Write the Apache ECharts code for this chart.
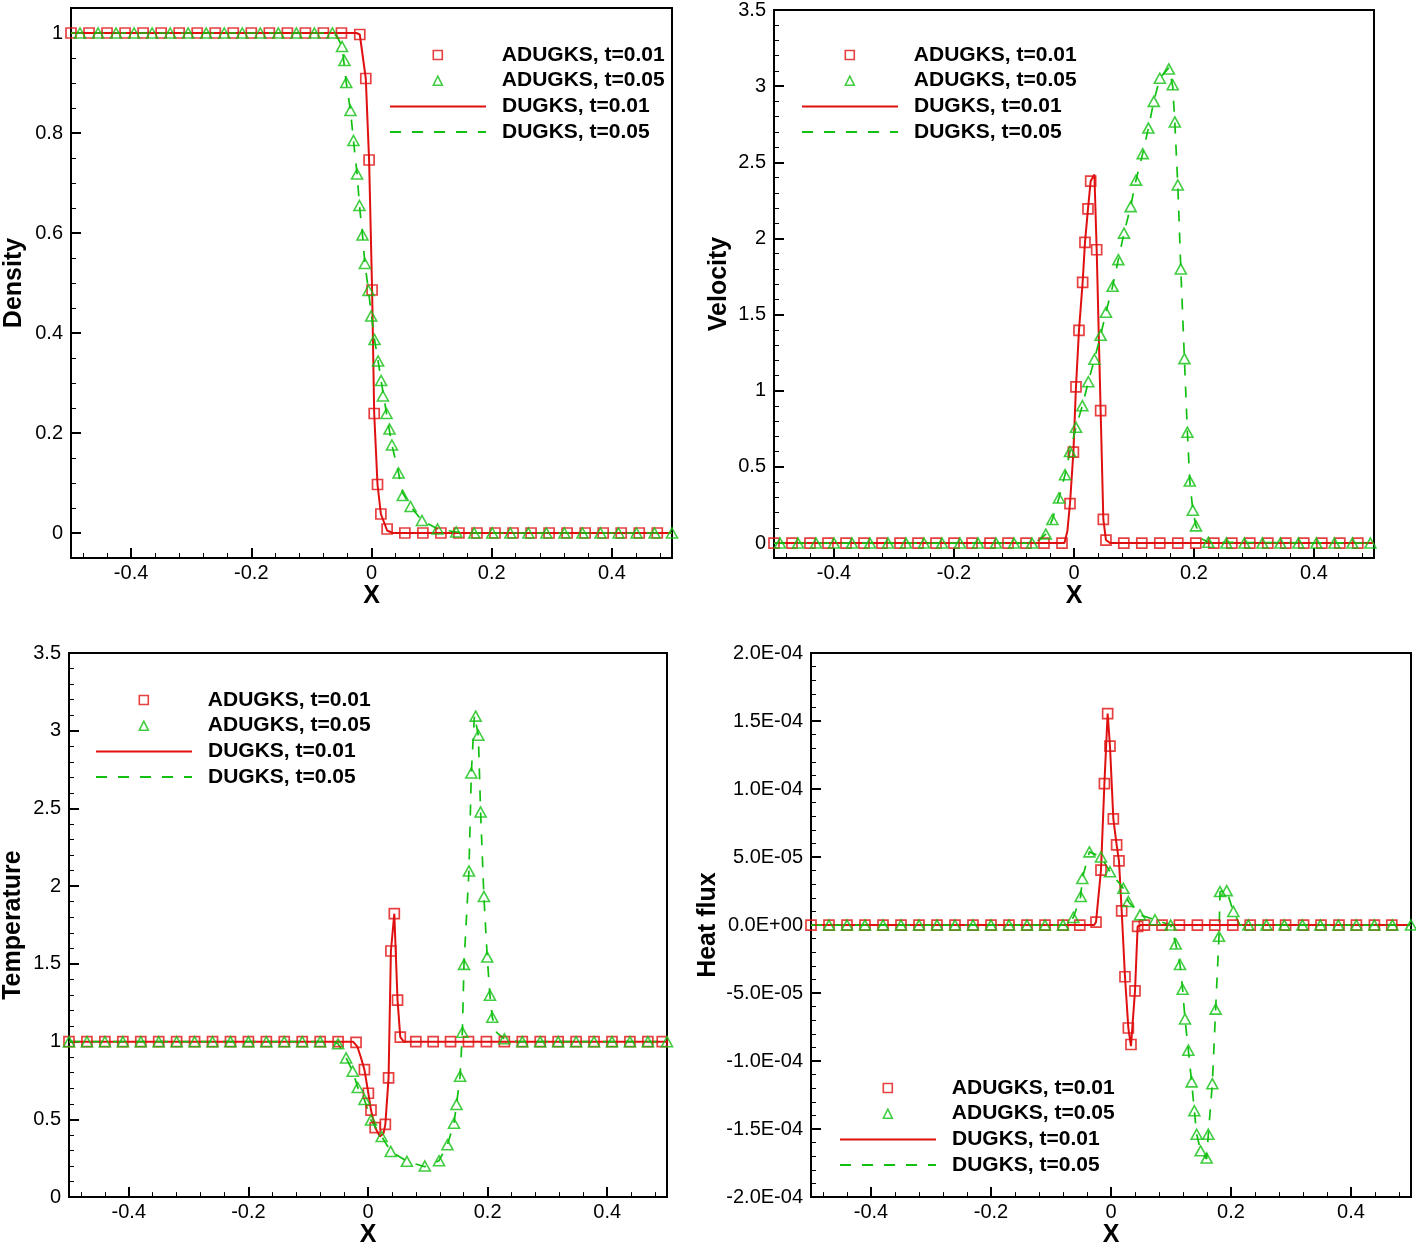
<!DOCTYPE html>
<html><head><meta charset="utf-8">
<script src="https://cdn.jsdelivr.net/npm/echarts@6/dist/echarts.min.js"></script>
<style>html,body{margin:0;padding:0;background:#fff}#c{width:1416px;height:1249px}</style>
</head><body><div id="c"></div>
<script>
// ---------------- tick labels ----------------
const xTickLabels = [-0.4, -0.2, 0, 0.2, 0.4];
const denTickLabels = [0, 0.2, 0.4, 0.6, 0.8, 1];
const velTickLabels = [0, 0.5, 1, 1.5, 2, 2.5, 3, 3.5];
const temTickLabels = [0, 0.5, 1, 1.5, 2, 2.5, 3, 3.5];
const hfTickLabels = [-2e-4, -1.5e-4, -1e-4, -5e-5, 0, 5e-5, 1e-4, 1.5e-4, 2e-4];
const seriesNames = ['ADUGKS, t=0.01', 'ADUGKS, t=0.05', 'DUGKS, t=0.01', 'DUGKS, t=0.05'];

// ---------------- Density ----------------
const den_ad01 = [[-0.5,1],[-0.47,1],[-0.44,1],[-0.41,1],[-0.38,1],[-0.35,1],[-0.32,1],[-0.29,1],[-0.26,1],[-0.23,1],[-0.2,1],[-0.17,1],[-0.14,1],[-0.11,1],[-0.08,1],[-0.05,1],
 [-0.0195,0.997],[-0.0095,0.909],[-0.004,0.746],[0.001,0.486],[0.0045,0.239],[0.010,0.097],[0.0156,0.038],[0.026,0.008],
 [0.0555,0],[0.0855,0],[0.1155,0],[0.1455,0],[0.1755,0],[0.2055,0],[0.2355,0],[0.2655,0],[0.2955,0],[0.3255,0],[0.3555,0],[0.3855,0],[0.4155,0],[0.4455,0],[0.4755,0]];
const den_ad05 = [[-0.485,1],[-0.455,1],[-0.425,1],[-0.395,1],[-0.365,1],[-0.335,1],[-0.305,1],[-0.275,1],[-0.245,1],[-0.215,1],[-0.185,1],[-0.155,1],[-0.125,1],[-0.095,1],[-0.065,1],
 [-0.049,0.973],[-0.045,0.945],[-0.042,0.901],[-0.035,0.845],[-0.030,0.785],[-0.024,0.718],[-0.020,0.655],[-0.015,0.596],[-0.011,0.539],[-0.005,0.485],[-0.0005,0.434],[0.005,0.387],[0.011,0.344],[0.016,0.305],[0.019,0.274],[0.025,0.239],[0.030,0.208],[0.034,0.176],[0.045,0.12],[0.052,0.075],[0.065,0.053],[0.084,0.025],[0.110,0.008],
 [0.141,0.002],[0.171,0],[0.201,0],[0.231,0],[0.261,0],[0.291,0],[0.321,0],[0.351,0],[0.381,0],[0.411,0],[0.441,0],[0.471,0],[0.5,0]];
const den_du01 = [[-0.5,1],[-0.025,1],[-0.0195,0.997],[-0.0095,0.909],[-0.004,0.746],[0.001,0.486],[0.0045,0.239],[0.010,0.097],[0.0156,0.038],[0.026,0.005],[0.035,0],[0.5,0]];
const den_du05 = [[-0.5,1],[-0.07,1],[-0.058,0.995],[-0.049,0.973],[-0.042,0.901],[-0.035,0.845],[-0.030,0.785],[-0.024,0.718],[-0.020,0.655],[-0.015,0.596],[-0.011,0.539],[-0.005,0.485],[0,0.434],[0.005,0.387],[0.011,0.344],[0.016,0.305],[0.025,0.239],[0.034,0.176],[0.045,0.12],[0.052,0.08],[0.065,0.053],[0.084,0.025],[0.110,0.008],[0.141,0.002],[0.17,0],[0.5,0]];

// ---------------- Velocity ----------------
const vel_ad01 = [[-0.5,0],[-0.47,0],[-0.44,0],[-0.41,0],[-0.38,0],[-0.35,0],[-0.32,0],[-0.29,0],[-0.26,0],[-0.23,0],[-0.2,0],[-0.17,0],[-0.14,0],[-0.11,0],[-0.08,0],[-0.05,0],[-0.02,0],
 [-0.0067,0.259],[-0.001,0.597],[0.0033,1.026],[0.0083,1.397],[0.0144,1.712],[0.0183,1.974],[0.0233,2.194],[0.0278,2.377],[0.0378,1.926],[0.0444,0.869],[0.0489,0.155],[0.0533,0.02],
 [0.083,0],[0.113,0],[0.143,0],[0.173,0],[0.203,0],[0.233,0],[0.263,0],[0.293,0],[0.323,0],[0.353,0],[0.383,0],[0.413,0],[0.443,0],[0.473,0]];
const vel_ad05 = [[-0.49,0],[-0.46,0],[-0.43,0],[-0.40,0],[-0.37,0],[-0.34,0],[-0.31,0],[-0.28,0],[-0.25,0],[-0.22,0],[-0.19,0],[-0.16,0],[-0.13,0],[-0.10,0],[-0.07,0],
 [-0.047,0.059],[-0.036,0.155],[-0.025,0.296],[-0.015,0.449],[-0.0067,0.601],[0.0033,0.76],[0.0139,0.902],[0.0239,1.059],[0.034,1.207],[0.0444,1.364],[0.0533,1.516],[0.0644,1.686],[0.0739,1.861],[0.0833,2.035],[0.0944,2.209],[0.1033,2.383],[0.1145,2.557],[0.124,2.725],[0.133,2.9],[0.143,3.052],[0.158,3.113],[0.1645,3.009],[0.168,2.765],[0.173,2.351],[0.178,1.80],[0.184,1.211],[0.189,0.728],[0.193,0.407],[0.198,0.216],[0.2033,0.113],
 [0.224,0.005],[0.254,0],[0.284,0],[0.314,0],[0.344,0],[0.374,0],[0.404,0],[0.434,0],[0.464,0],[0.494,0]];
const vel_du01 = [[-0.5,0],[-0.016,0],[-0.011,0.08],[-0.0067,0.259],[-0.001,0.597],[0.0033,1.026],[0.0083,1.397],[0.0144,1.712],[0.0183,1.974],[0.0233,2.194],[0.0278,2.377],[0.034,2.42],[0.0378,1.926],[0.0444,0.869],[0.0489,0.155],[0.0533,0.02],[0.06,0],[0.5,0]];
const vel_du05 = [[-0.5,0],[-0.07,0],[-0.058,0.02],[-0.047,0.059],[-0.036,0.155],[-0.025,0.296],[-0.015,0.449],[-0.0067,0.601],[0.0033,0.76],[0.0139,0.902],[0.0239,1.059],[0.034,1.207],[0.0444,1.364],[0.0533,1.516],[0.0644,1.686],[0.0739,1.861],[0.0833,2.035],[0.0944,2.209],[0.1033,2.383],[0.1145,2.557],[0.124,2.725],[0.133,2.9],[0.143,3.052],[0.158,3.12],[0.1645,3.0],[0.168,2.765],[0.173,2.351],[0.178,1.80],[0.184,1.211],[0.189,0.728],[0.193,0.407],[0.198,0.216],[0.2033,0.113],[0.212,0.03],[0.224,0.005],[0.5,0]];

// ---------------- Temperature ----------------
const tem_ad01 = [[-0.5,1],[-0.47,1],[-0.44,1],[-0.41,1],[-0.38,1],[-0.35,1],[-0.32,1],[-0.29,1],[-0.26,1],[-0.23,1],[-0.2,1],[-0.17,1],[-0.14,1],[-0.11,1],[-0.08,1],[-0.05,1],[-0.02,0.995],
 [-0.006,0.82],[0.0006,0.668],[0.005,0.56],[0.012,0.447],[0.029,0.468],[0.0344,0.767],[0.0383,1.583],[0.044,1.823],[0.0494,1.267],[0.054,1.029],
 [0.08,1],[0.109,1],[0.138,1],[0.168,1],[0.198,1],[0.228,1],[0.258,1],[0.288,1],[0.318,1],[0.348,1],[0.378,1],[0.408,1],[0.438,1],[0.468,1],[0.492,1]];
const tem_ad05 = [[-0.5,1],[-0.47,1],[-0.44,1],[-0.41,1],[-0.38,1],[-0.35,1],[-0.32,1],[-0.29,1],[-0.26,1],[-0.23,1],[-0.2,1],[-0.17,1],[-0.14,1],[-0.11,1],[-0.08,1],[-0.05,0.986],
 [-0.0367,0.895],[-0.0256,0.81],[-0.0172,0.705],[-0.006,0.628],[0.005,0.496],[0.0228,0.39],[0.038,0.294],[0.065,0.23],[0.095,0.2],[0.1188,0.234],[0.1328,0.337],[0.1438,0.475],[0.148,0.596],[0.154,0.778],[0.1578,1.061],[0.1605,1.497],[0.1688,2.098],[0.1728,2.728],[0.18,3.094],[0.1845,2.971],[0.1883,2.477],[0.1938,1.934],[0.1994,1.544],[0.2039,1.299],[0.2078,1.157],[0.228,1.018],
 [0.258,1],[0.288,1],[0.318,1],[0.348,1],[0.378,1],[0.408,1],[0.438,1],[0.468,1],[0.5,1]];
const tem_du01 = [[-0.5,1],[-0.025,1],[-0.018,0.97],[-0.012,0.9],[-0.006,0.82],[0.0006,0.668],[0.005,0.56],[0.012,0.447],[0.02,0.39],[0.026,0.41],[0.029,0.468],[0.0344,0.767],[0.0383,1.583],[0.044,1.823],[0.0494,1.267],[0.054,1.029],[0.06,1.0],[0.5,1]];
const tem_du05 = [[-0.5,1],[-0.06,1],[-0.05,0.986],[-0.0367,0.895],[-0.0256,0.81],[-0.0172,0.705],[-0.006,0.628],[0.005,0.496],[0.0228,0.39],[0.038,0.294],[0.065,0.23],[0.095,0.195],[0.1188,0.234],[0.1328,0.337],[0.1438,0.475],[0.148,0.596],[0.154,0.778],[0.1578,1.061],[0.1605,1.497],[0.1688,2.098],[0.1728,2.728],[0.178,3.1],[0.1845,2.971],[0.1883,2.477],[0.1938,1.934],[0.1994,1.544],[0.2039,1.299],[0.2078,1.157],[0.215,1.06],[0.228,1.018],[0.25,1],[0.5,1]];

// ---------------- Heat flux ----------------
const hf_ad01 = [[-0.5,0],[-0.47,0],[-0.44,0],[-0.41,0],[-0.38,0],[-0.35,0],[-0.32,0],[-0.29,0],[-0.26,0],[-0.23,0],[-0.2,0],[-0.17,0],[-0.14,0],[-0.11,0],[-0.08,0],[-0.052,0],
 [-0.025,2.2e-6],[-0.0167,4.04e-5],[-0.011,1.04e-4],[-0.0056,1.555e-4],[-0.0017,1.316e-4],[0.0039,7.8e-5],[0.0094,5.9e-5],[0.0133,4.72e-5],[0.0178,1.04e-5],[0.0233,-3.8e-5],[0.0289,-7.57e-5],[0.0333,-8.78e-5],[0.04,-4.84e-5],[0.0444,-1e-6],
 [0.0556,0],[0.085,0],[0.114,0],[0.144,0],[0.173,0],[0.203,0],[0.232,0],[0.262,0],[0.291,0],[0.321,0],[0.35,0],[0.38,0],[0.409,0],[0.439,0],[0.468,0]];
const hf_ad05 = [[-0.47,0],[-0.44,0],[-0.41,0],[-0.38,0],[-0.35,0],[-0.32,0],[-0.29,0],[-0.26,0],[-0.23,0],[-0.2,0],[-0.17,0],[-0.14,0],[-0.11,0],[-0.08,0],
 [-0.0628,5.6e-6],[-0.0505,2.1e-5],[-0.0478,3.43e-5],[-0.036,5.38e-5],[-0.0167,5.01e-5],[-0.0017,3.92e-5],[0.0206,2.7e-5],[0.0289,1.73e-5],[0.0483,7.5e-6],[0.0733,3.9e-6],[0.0994,0],[0.1078,-1.39e-5],[0.115,-2.9e-5],[0.1194,-4.72e-5],[0.1233,-6.9e-5],[0.1289,-9.2e-5],[0.1344,-1.153e-4],[0.1389,-1.365e-4],[0.1428,-1.538e-4],[0.1494,-1.66e-4],[0.1594,-1.713e-4],[0.1622,-1.538e-4],[0.1689,-1.166e-4],[0.1744,-6.18e-5],[0.18,-8.3e-6],[0.1817,2.46e-5],[0.1928,2.53e-5],[0.2039,1.0e-5],
 [0.2289,0],[0.259,0],[0.289,0],[0.319,0],[0.349,0],[0.379,0],[0.409,0],[0.439,0],[0.469,0],[0.5,0]];
const hf_du01 = [[-0.5,0],[-0.028,0],[-0.025,2.2e-6],[-0.0167,4.04e-5],[-0.011,1.04e-4],[-0.0056,1.555e-4],[-0.0017,1.316e-4],[0.0039,7.8e-5],[0.0094,5.9e-5],[0.0133,4.72e-5],[0.0178,1.04e-5],[0.0233,-3.8e-5],[0.0289,-7.57e-5],[0.0333,-8.9e-5],[0.04,-4.84e-5],[0.0444,-1e-6],[0.05,0],[0.5,0]];
const hf_du05 = [[-0.5,0],[-0.075,0],[-0.0628,5.6e-6],[-0.0505,2.1e-5],[-0.0478,3.43e-5],[-0.036,5.38e-5],[-0.0167,5.01e-5],[-0.0017,3.92e-5],[0.0206,2.7e-5],[0.0289,1.73e-5],[0.0483,7.5e-6],[0.0733,3.9e-6],[0.0994,0],[0.1078,-1.39e-5],[0.115,-2.9e-5],[0.1194,-4.72e-5],[0.1233,-6.9e-5],[0.1289,-9.2e-5],[0.1344,-1.153e-4],[0.1389,-1.365e-4],[0.1428,-1.538e-4],[0.1494,-1.66e-4],[0.1594,-1.72e-4],[0.1622,-1.538e-4],[0.1689,-1.166e-4],[0.1744,-6.18e-5],[0.18,-8.3e-6],[0.1817,2.46e-5],[0.1928,2.53e-5],[0.2039,1.0e-5],[0.215,0],[0.5,0]];

// ---------------- build chart ----------------
const RED = '#e01010', GREEN = '#12c012';
const FONT = '"Liberation Sans", Arial, sans-serif';

function sci(v) {
  if (Math.abs(v) < 1e-12) return '0.0E+00';
  const e = Math.floor(Math.log10(Math.abs(v)) + 1e-9);
  const m = v / Math.pow(10, e);
  return m.toFixed(1) + 'E' + (e < 0 ? '-' : '+') + String(Math.abs(e)).padStart(2, '0');
}
// minor tick positions: every `step` between min and max, skipping the major ticks
function minorTicks(min, max, step, majors) {
  const out = [];
  const start = Math.ceil(min / step - 1e-9);
  const end = Math.floor(max / step + 1e-9);
  for (let k = start; k <= end; k++) {
    const v = +(k * step).toPrecision(10);
    if (v <= min + step * 1e-3 || v >= max - step * 1e-3) continue;
    if (majors.some(m => Math.abs(m - v) < step * 1e-3)) continue;
    out.push(v);
  }
  return out;
}

const panels = [
  { grid: {left: 71, top: 8, width: 601, height: 550}, yMin: -0.05, yMax: 1.05, yTicks: denTickLabels, yMinorStep: 0.05,
    yName: 'Density', yNameGap: 44, fmt: null, legend: {left: 389, top: 44.5},
    data: [den_ad01, den_ad05, den_du01, den_du05] },
  { grid: {left: 774, top: 8, width: 600, height: 550}, yMin: -0.098, yMax: 3.5, yTicks: velTickLabels, yMinorStep: 0.1,
    yName: 'Velocity', yNameGap: 42, fmt: null, legend: {left: 801, top: 44.5},
    data: [vel_ad01, vel_ad05, vel_du01, vel_du05] },
  { grid: {left: 67, top: 653, width: 600, height: 548}, yMin: 0, yMax: 3.5, yTicks: temTickLabels, yMinorStep: 0.1,
    yName: 'Temperature', yNameGap: 43, fmt: null, legend: {left: 95, top: 689.5},
    data: [tem_ad01, tem_ad05, tem_du01, tem_du05] },
  { grid: {left: 811, top: 653, width: 600, height: 548}, yMin: -2e-4, yMax: 2e-4, yTicks: hfTickLabels, yMinorStep: 1e-5,
    yName: 'Heat flux', yNameGap: 90, fmt: sci, legend: {left: 839, top: 1077.5},
    data: [hf_ad01, hf_ad05, hf_du01, hf_du05] }
];

const grids = [], xAxes = [], yAxes = [], series = [], legends = [];
const xMinor = minorTicks(-0.5, 0.5, 0.04, xTickLabels);
const LINE_W = 96, SYM = 9, ROW = 25.7, TEXT_X = 112;   // legend geometry (px)
const DASH = [11, 11];
const legendText = {color: '#000', fontSize: 21, fontWeight: 'bold', fontFamily: FONT};

panels.forEach((p, i) => {
  grids.push(Object.assign({show: true, borderColor: '#000', borderWidth: 2, backgroundColor: 'transparent', containLabel: false}, p.grid));
  const xa = {
    type: 'value', gridIndex: i, min: -0.5, max: 0.5, position: 'bottom',
    axisLine: {show: true, onZero: false, lineStyle: {color: '#000', width: 2}},
    splitLine: {show: false},
    axisTick: {show: true, inside: true, length: 10, lineStyle: {color: '#000', width: 2}, customValues: xTickLabels},
    axisLabel: {show: true, margin: 5, color: '#000', fontSize: 20, fontFamily: FONT, customValues: xTickLabels},
    name: 'X', nameLocation: 'middle', nameGap: 25,
    nameTextStyle: {color: '#000', fontSize: 25, fontWeight: 'bold', fontFamily: FONT}
  };
  const xm = {
    type: 'value', gridIndex: i, min: -0.5, max: 0.5, position: 'bottom',
    axisLine: {show: false, onZero: false}, splitLine: {show: false}, axisLabel: {show: false},
    axisTick: {show: true, inside: true, length: 5, lineStyle: {color: '#000', width: 1}, customValues: xMinor}
  };
  const ya = {
    type: 'value', gridIndex: i, min: p.yMin, max: p.yMax, position: 'left',
    axisLine: {show: true, onZero: false, lineStyle: {color: '#000', width: 2}},
    splitLine: {show: false},
    axisTick: {show: true, inside: true, length: 10, lineStyle: {color: '#000', width: 2}, customValues: p.yTicks},
    axisLabel: {show: true, margin: 8, color: '#000', fontSize: 20, fontFamily: FONT, customValues: p.yTicks,
      formatter: p.fmt ? p.fmt : (v => String(+v.toFixed(6)))},
    name: p.yName, nameLocation: 'middle', nameGap: p.yNameGap,
    nameTextStyle: {color: '#000', fontSize: 25, fontWeight: 'bold', fontFamily: FONT}
  };
  const ym = {
    type: 'value', gridIndex: i, min: p.yMin, max: p.yMax, position: 'left',
    axisLine: {show: false, onZero: false}, splitLine: {show: false}, axisLabel: {show: false},
    axisTick: {show: true, inside: true, length: 5, lineStyle: {color: '#000', width: 1},
      customValues: minorTicks(p.yMin, p.yMax, p.yMinorStep, p.yTicks)}
  };
  xAxes.push(xa, xm);
  yAxes.push(ya, ym);
  const xi = 2 * i, yi = 2 * i;
  series.push(
    {name: seriesNames[2], type: 'line', xAxisIndex: xi, yAxisIndex: yi, data: p.data[2], symbol: 'none', z: 2,
      lineStyle: {color: RED, width: 2}, itemStyle: {color: RED}},
    {name: seriesNames[3], type: 'line', xAxisIndex: xi, yAxisIndex: yi, data: p.data[3], symbol: 'none', z: 2,
      lineStyle: {color: GREEN, width: 1.7, type: DASH}, itemStyle: {color: GREEN}},
    {name: seriesNames[0], type: 'scatter', xAxisIndex: xi, yAxisIndex: yi, data: p.data[0], symbol: 'rect', symbolSize: 10, z: 3,
      itemStyle: {color: 'rgba(255,255,255,0)', borderColor: RED, borderWidth: 1.7}},
    {name: seriesNames[1], type: 'scatter', xAxisIndex: xi, yAxisIndex: yi, data: p.data[1], symbol: 'triangle', symbolSize: [11, 10], z: 3,
      itemStyle: {color: 'rgba(255,255,255,0)', borderColor: GREEN, borderWidth: 1.6}}
  );
  // marker legend: small icon centred over the line-icon column
  const symLeft = p.legend.left + LINE_W / 2 - SYM / 2;
  legends.push({
    orient: 'vertical', left: symLeft, top: p.legend.top, itemWidth: SYM, itemHeight: SYM, itemGap: ROW - 21,
    selectedMode: false, padding: 0,
    textStyle: Object.assign({padding: [0, 0, 0, TEXT_X - (LINE_W / 2 + SYM / 2) - 5]}, legendText),
    data: [
      {name: seriesNames[0], icon: 'rect', itemStyle: {color: 'rgba(255,255,255,0)', borderColor: RED, borderWidth: 1.6}},
      {name: seriesNames[1], icon: 'triangle', itemStyle: {color: 'rgba(255,255,255,0)', borderColor: GREEN, borderWidth: 1.6}}
    ]
  });
  // line legend
  legends.push({
    orient: 'vertical', left: p.legend.left, top: p.legend.top + 2 * ROW, itemWidth: LINE_W, itemHeight: SYM, itemGap: ROW - 21,
    selectedMode: false, padding: 0,
    textStyle: Object.assign({padding: [0, 0, 0, TEXT_X - LINE_W - 5]}, legendText),
    data: [
      {name: seriesNames[2], itemStyle: {opacity: 0, color: 'rgba(0,0,0,0)', borderWidth: 0}},
      {name: seriesNames[3], itemStyle: {opacity: 0, color: 'rgba(0,0,0,0)', borderWidth: 0}}
    ]
  });
});

const chart = echarts.init(document.getElementById('c'), null, {renderer: 'canvas'});
chart.setOption({
  backgroundColor: '#fff',
  animation: false,
  grid: grids, xAxis: xAxes, yAxis: yAxes, series: series, legend: legends
});
</script></body></html>
